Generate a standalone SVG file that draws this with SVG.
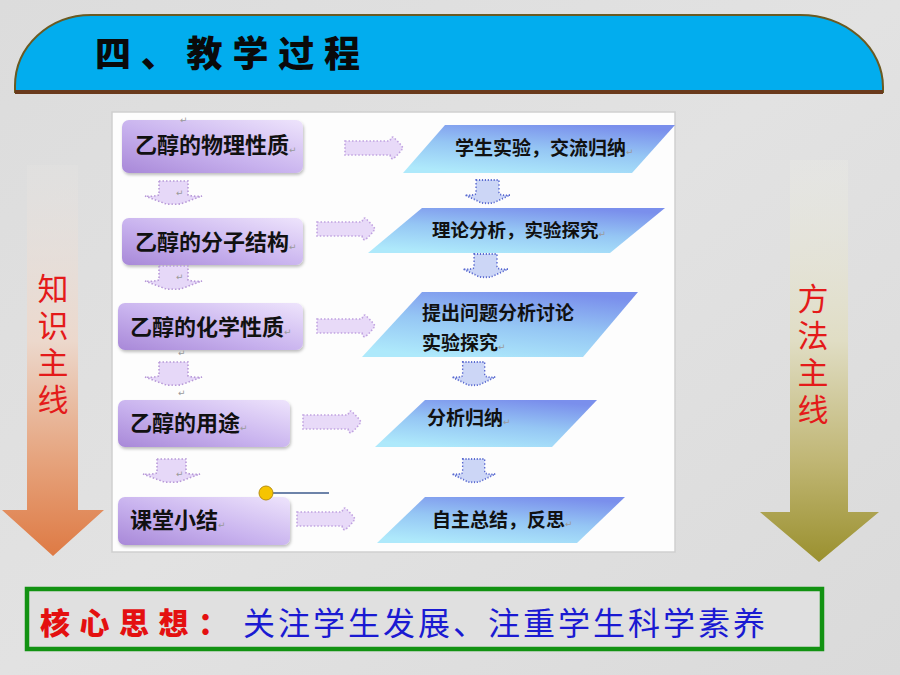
<svg xmlns="http://www.w3.org/2000/svg" xmlns:xlink="http://www.w3.org/1999/xlink" width="900" height="675" viewBox="0 0 900 675">
<defs>
<linearGradient id="bg" x1="0" y1="0" x2="1" y2="1"><stop offset="0" stop-color="#dcdcdc"/><stop offset="0.5" stop-color="#e2e2e2"/><stop offset="1" stop-color="#dadada"/></linearGradient>
<linearGradient id="purp" x1="0" y1="1" x2="1" y2="0"><stop offset="0" stop-color="#a888d8"/><stop offset="0.45" stop-color="#c8b2ee"/><stop offset="1" stop-color="#eee4fc"/></linearGradient>
<linearGradient id="para" x1="0.3" y1="1" x2="0.7" y2="0"><stop offset="0" stop-color="#aee9fb"/><stop offset="0.5" stop-color="#95c6f4"/><stop offset="1" stop-color="#7a8fec"/></linearGradient>
<linearGradient id="leftArr" x1="0" y1="0" x2="0" y2="1"><stop offset="0" stop-color="#e6e4e2" stop-opacity="0.3"/><stop offset="0.45" stop-color="#ecd8cc"/><stop offset="0.75" stop-color="#e6a47e"/><stop offset="1" stop-color="#de7a44"/></linearGradient>
<linearGradient id="rightArr" x1="0" y1="0" x2="0" y2="1"><stop offset="0" stop-color="#ecece6" stop-opacity="0.3"/><stop offset="0.45" stop-color="#e0ddc4"/><stop offset="0.75" stop-color="#c0b674"/><stop offset="1" stop-color="#9a902e"/></linearGradient>
<path id="dnShape" d="M14,0 H43 V14 Q50,16 57,15 Q49,18 41,21 Q34,24 28,23 Q22,24 16,21 Q8,18 0,15 Q7,16 14,14 Z"/>
<path id="rtShape" d="M0,4 H45 Q46,0 48,0 Q54,5 58,11 Q54,17 48,22 Q46,22 45,18 H0 Z"/>
<filter id="sh" x="-10%" y="-10%" width="120%" height="130%"><feDropShadow dx="1" dy="2" stdDeviation="1.5" flood-color="#000" flood-opacity="0.25"/></filter>
</defs>
<style>
.lbl{font-family:"Noto Sans CJK SC",sans-serif;font-weight:700;font-size:22px;fill:#111}
.rl{font-family:"Noto Sans CJK SC",sans-serif;font-weight:700;font-size:19px;fill:#111}
.ret{font-family:"DejaVu Sans",sans-serif;font-size:9px;fill:#9a9a9a;font-weight:400}
.side{font-family:"Noto Sans CJK SC",sans-serif;font-size:31px;fill:#e41a1a;writing-mode:vertical-rl;letter-spacing:6px}
.box{fill:url(#purp);filter:url(#sh)}
.par{fill:url(#para)}
.dnL{fill:#e6d8f8;stroke:#b89ad8;stroke-width:1.6;stroke-dasharray:1.5 2}
.rtL{fill:#e8daf8;stroke:#c0a2e0;stroke-width:1.6;stroke-dasharray:1.5 2}
.dnB{fill:#ccd6f6;stroke:#5a6ad0;stroke-width:1.8;stroke-dasharray:1.5 2.2}
</style>
<rect width="900" height="675" fill="url(#bg)"/>

<g id="header">
<path d="M15,92 V86 A76 71 0 0 1 91,15 H800 A83 72 0 0 1 883,87 V92 Z" fill="#02adee" stroke="#6b5a22" stroke-width="2"/>
<line x1="15" y1="92" x2="883" y2="92" stroke="#6a3a1c" stroke-width="4"/>
<text x="95" y="67" textLength="265" lengthAdjust="spacing" style="font-family:'Noto Sans CJK SC',sans-serif;font-weight:900;font-size:36px;fill:#0a0a0a">四、教学过程</text>
</g>

<g id="knowledge-line">
<path d="M27,165 H78 V510 H104 L53,556 L2,510 H27 Z" fill="url(#leftArr)"/>
<text class="side" x="53" y="273">知识主线</text>
</g>

<g id="method-line">
<path d="M790,160 H848 V512 H879 L819,562 L760,512 H790 Z" fill="url(#rightArr)"/>
<text class="side" x="813" y="283">方法主线</text>
</g>

<g id="panel">
<rect x="112" y="112" width="563" height="440" fill="#fdfdfd" stroke="#cfcfcf" stroke-width="1.5"/>
</g>

<g id="k1"><rect class="box" x="122" y="120" width="181" height="53" rx="7"/><text class="lbl" x="135" y="153">乙醇的物理性质<tspan class="ret">↵</tspan></text><text class="ret" x="180" y="123">↵</text></g>
<g id="k2"><rect class="box" x="122" y="218" width="181" height="47" rx="7"/><text class="lbl" x="135" y="250">乙醇的分子结构<tspan class="ret">↵</tspan></text></g>
<g id="k3"><rect class="box" x="118" y="303" width="185" height="47" rx="7"/><text class="lbl" x="130" y="335">乙醇的化学性质<tspan class="ret">↵</tspan></text></g>
<g id="k4"><rect class="box" x="118" y="400" width="172" height="47" rx="7"/><text class="lbl" x="130" y="431">乙醇的用途<tspan class="ret">↵</tspan></text></g>
<g id="k5"><rect class="box" x="118" y="497" width="172" height="48" rx="7"/><text class="lbl" x="130" y="528">课堂小结<tspan class="ret">↵</tspan></text></g>

<g id="m1"><polygon class="par" points="445,125 675,125 632,173 403,173"/><text class="rl" x="455" y="155">学生实验，交流归纳<tspan class="ret">↵</tspan></text></g>
<g id="m2"><polygon class="par" points="422,208 665,208 610,253 368,253"/><text class="rl" x="432" y="237" style="font-size:18.5px">理论分析，实验探究<tspan class="ret">↵</tspan></text></g>
<g id="m3"><polygon class="par" points="422,292 638,292 583,357 362,357"/><text class="rl" x="422" y="320">提出问题分析讨论</text><text class="rl" x="422" y="350">实验探究<tspan class="ret">↵</tspan></text></g>
<g id="m4"><polygon class="par" points="425,400 597,400 552,447 375,447"/><text class="rl" x="427" y="425">分析归纳<tspan class="ret">↵</tspan></text></g>
<g id="m5"><polygon class="par" points="425,497 625,497 577,543 377,543"/><text class="rl" x="432" y="527">自主总结，反思<tspan class="ret">↵</tspan></text></g>

<g id="connectors">
<use href="#dnShape" class="dnL" x="145" y="181"/>
<use href="#dnShape" class="dnL" x="145" y="266"/>
<use href="#dnShape" class="dnL" x="145" y="362"/>
<use href="#dnShape" class="dnL" x="143" y="459"/>
<text class="ret" x="176" y="196">↵</text>
<text class="ret" x="176" y="280">↵</text>
<text class="ret" x="178" y="356">↵</text>
<text class="ret" x="178" y="396">↵</text>
<text class="ret" x="176" y="477">↵</text>
<use href="#rtShape" class="rtL" x="345" y="137"/>
<use href="#rtShape" class="rtL" x="317" y="218"/>
<use href="#rtShape" class="rtL" x="317" y="315"/>
<use href="#rtShape" class="rtL" x="303" y="411"/>
<use href="#rtShape" class="rtL" x="297" y="508"/>
<use href="#dnShape" class="dnB" transform="translate(465,180) scale(0.79,1)"/>
<use href="#dnShape" class="dnB" transform="translate(463,254) scale(0.79,1)"/>
<use href="#dnShape" class="dnB" transform="translate(452,362) scale(0.76,1)"/>
<use href="#dnShape" class="dnB" transform="translate(452,459) scale(0.76,1)"/>
<line x1="273" y1="493" x2="329" y2="493" stroke="#3c5a8c" stroke-width="1.5"/>
<circle cx="266" cy="493" r="7" fill="#f6c400" stroke="#b88e10" stroke-width="1"/>
</g>

<g id="core-idea">
<rect x="27" y="589" width="795" height="60" fill="#e0e0e0" stroke="#129212" stroke-width="4.5"/>
<text x="40" y="634" textLength="188" lengthAdjust="spacing" style="font-family:'Noto Sans CJK SC',sans-serif;font-weight:900;font-size:30px;fill:#e41010">核心思想：</text>
<text x="243" y="635" textLength="522" lengthAdjust="spacing" style="font-family:'Noto Sans CJK SC',sans-serif;font-size:32px;fill:#1a1ad2">关注学生发展、注重学生科学素养</text>
</g>
</svg>
